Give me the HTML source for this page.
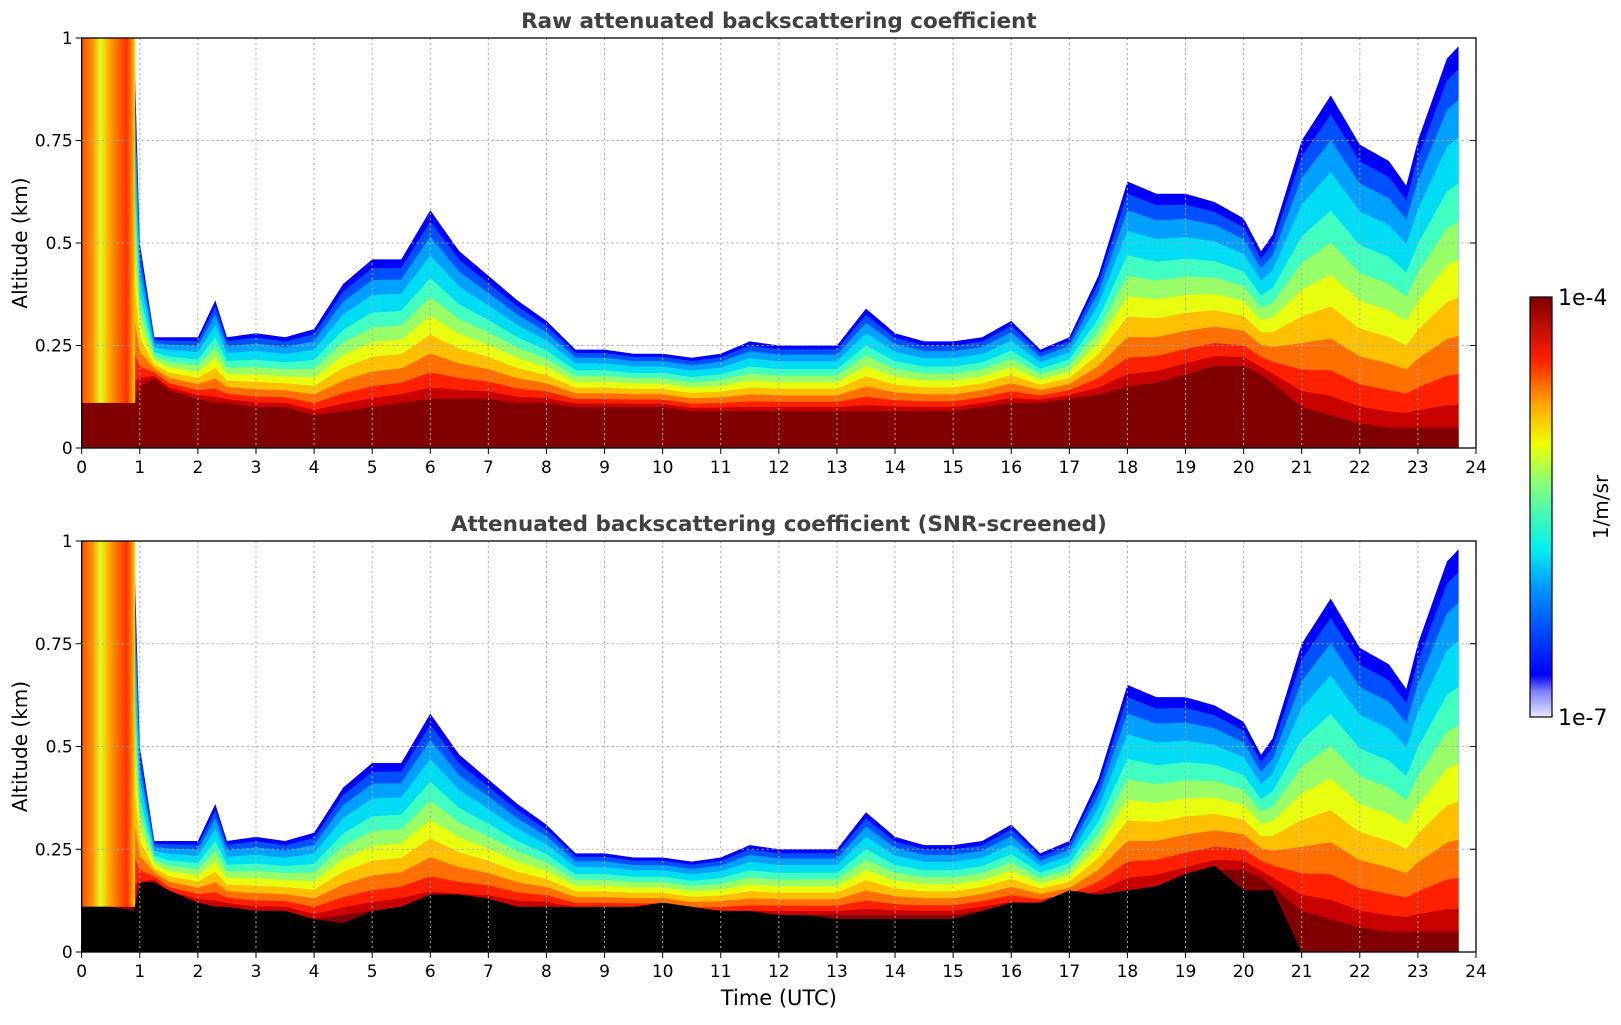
<!DOCTYPE html>
<html><head><meta charset="utf-8"><style>
body{margin:0;background:#fff;}
svg text{font-family:"DejaVu Sans","Liberation Sans",sans-serif;}
</style></head><body>
<svg id="s" width="1621" height="1020" viewBox="0 0 1621 1020" xmlns="http://www.w3.org/2000/svg">
<defs>
<linearGradient id="cbg" x1="0" y1="1" x2="0" y2="0">
<stop offset="0" stop-color="#e8e8ff"/><stop offset="0.06" stop-color="#8080ff"/><stop offset="0.1" stop-color="#0000ff"/>
<stop offset="0.3" stop-color="#0090ff"/><stop offset="0.4" stop-color="#00f0f0"/><stop offset="0.55" stop-color="#80ff80"/>
<stop offset="0.65" stop-color="#f0ff00"/><stop offset="0.75" stop-color="#ffa000"/><stop offset="0.85" stop-color="#ff2000"/>
<stop offset="1" stop-color="#800000"/></linearGradient>
<linearGradient id="early" x1="0" y1="0" x2="1" y2="0">
<stop offset="0" stop-color="#ff5000"/><stop offset="0.2" stop-color="#ff9000"/><stop offset="0.35" stop-color="#e0ff20"/>
<stop offset="0.5" stop-color="#ffb000"/><stop offset="0.7" stop-color="#ff6000"/><stop offset="0.85" stop-color="#ff3000"/><stop offset="1" stop-color="#ffd000"/></linearGradient>
</defs>
</svg>
<script>
// data
const hours    = [0,0.5,0.9,1.0,1.25,1.5,2,2.3,2.5,3,3.5,4,4.5,5,5.5,6,6.5,7,7.5,8,8.5,9,9.5,10,10.5,11,11.5,12,12.5,13,13.5,14,14.5,15,15.5,16,16.5,17,17.5,18,18.5,19,19.5,20,20.3,20.5,21,21.5,22,22.5,22.8,23,23.5,23.7];
const layerTop = [1.0,1.0,1.0,0.5,0.27,0.27,0.27,0.36,0.27,0.28,0.27,0.29,0.40,0.46,0.46,0.58,0.48,0.42,0.36,0.31,0.24,0.24,0.23,0.23,0.22,0.23,0.26,0.25,0.25,0.25,0.34,0.28,0.26,0.26,0.27,0.31,0.24,0.27,0.42,0.65,0.62,0.62,0.60,0.56,0.48,0.52,0.75,0.86,0.74,0.70,0.64,0.75,0.95,0.98];
const darkTop  = [0.11,0.11,0.11,0.15,0.17,0.14,0.12,0.11,0.11,0.10,0.10,0.08,0.09,0.10,0.11,0.12,0.12,0.12,0.11,0.11,0.10,0.10,0.10,0.10,0.09,0.09,0.09,0.09,0.09,0.09,0.09,0.09,0.09,0.09,0.10,0.11,0.11,0.12,0.13,0.15,0.16,0.18,0.20,0.20,0.18,0.16,0.10,0.08,0.06,0.05,0.05,0.05,0.05,0.05];
const blackTop = [0.11,0.11,0.10,0.17,0.17,0.15,0.12,0.11,0.11,0.10,0.10,0.08,0.07,0.10,0.11,0.14,0.14,0.13,0.11,0.11,0.11,0.11,0.11,0.12,0.11,0.10,0.10,0.09,0.09,0.08,0.08,0.08,0.08,0.08,0.10,0.12,0.12,0.15,0.14,0.15,0.16,0.19,0.21,0.15,0.15,0.15,0.0,0.0,0.0,0.0,0.0,0.0,0.0,0.0];
const xTicks = [0,1,2,3,4,5,6,7,8,9,10,11,12,13,14,15,16,17,18,19,20,21,22,23,24];
const yTicks = [0,0.25,0.5,0.75,1];
const yTickLabels = ["0","0.25","0.5","0.75","1"];
const bandFrac   = [1.0,0.94,0.86,0.76,0.64,0.54,0.44,0.34,0.24,0.14,0.06];
const bandColors = ["#0000f8","#0050ff","#00a0ff","#00dcf4","#40ffc0","#98ff68","#e8ff10","#ffc000","#ff7000","#ff2000","#c80000"];

const NS="http://www.w3.org/2000/svg", svg=document.getElementById('s');
function el(tag,attrs,parent){const e=document.createElementNS(NS,tag);for(const k in attrs)e.setAttribute(k,attrs[k]);(parent||svg).appendChild(e);return e;}
const X0=81.7,X1=1476;
const xs=h=>X0+(h/24)*(X1-X0);
function panel(top,bottom,title,screened,pname){
  const ys=v=>bottom-v*(bottom-top);
  const g=el('g',{});
  
  
  const last=hours.length-1;
  for(let b=0;b<bandFrac.length;b++){
    let d='M'+xs(hours[0])+','+bottom;
    for(let i=0;i<hours.length;i++){const h=darkTop[i]+bandFrac[b]*(layerTop[i]-darkTop[i]);d+=' L'+xs(hours[i])+','+ys(h);}
    d+=' L'+xs(hours[last])+','+bottom+' Z';
    const p=el('path',{d:d,fill:bandColors[b]},g);
    
    
  }
  let d='M'+xs(hours[0])+','+bottom;
  for(let i=0;i<hours.length;i++)d+=' L'+xs(hours[i])+','+ys(darkTop[i]);
  d+=' L'+xs(hours[last])+','+bottom+' Z';
  const dk=el('path',{d:d,fill:'#800000'},g);
  
  
  const er=el('rect',{x:xs(0),y:ys(1),width:xs(0.92)-xs(0),height:ys(darkTop[0])-ys(1),fill:'url(#early)'},g);
  
  
  if(screened){
    let d2='M'+xs(hours[0])+','+bottom;
    for(let i=0;i<hours.length;i++)d2+=' L'+xs(hours[i])+','+ys(blackTop[i]);
    d2+=' L'+xs(hours[last])+','+bottom+' Z';
    const bk=el('path',{d:d2,fill:'#000'},g);
    
    
  }
  xTicks.forEach(t=>{if(t>0&&t<24){const l=el('line',{x1:xs(t),x2:xs(t),y1:top,y2:bottom,stroke:'#aaa','stroke-dasharray':'2,3','stroke-width':1},g);}});
  yTicks.forEach(t=>{if(t>0&&t<1){const l=el('line',{x1:X0,x2:X1,y1:ys(t),y2:ys(t),stroke:'#aaa','stroke-dasharray':'2,3','stroke-width':1},g);}});
  const fr=el('rect',{x:X0,y:top,width:X1-X0,height:bottom-top,fill:'none',stroke:'#000','stroke-width':1.3},g);
  
  
  xTicks.forEach(t=>{
    const l=el('line',{x1:xs(t),x2:xs(t),y1:bottom,y2:bottom+6,stroke:'#000'},g);
    
    
    const tx=el('text',{x:xs(t),y:bottom+25,'font-size':17,'text-anchor':'middle'},g);tx.textContent=String(t);
    
    
  });
  yTicks.forEach((t,i)=>{
    const l=el('line',{x1:X0-6,x2:X0,y1:ys(t),y2:ys(t),stroke:'#000'},g);
    
    
    const l2=el('line',{x1:X1,x2:X1-6,y1:ys(t),y2:ys(t),stroke:'#000'},g);
    
    
    const tx=el('text',{x:X0-9,y:ys(t)+6,'font-size':17,'text-anchor':'end'},g);tx.textContent=yTickLabels[i];
    
    
  });
  const tt=el('text',{x:(X0+X1)/2,y:top-10,'font-size':21.5,'font-weight':'bold',fill:'#404040','text-anchor':'middle'},g);tt.textContent=title;
  
  
  const yl=el('text',{x:0,y:0,'font-size':20,'text-anchor':'middle',transform:'translate(27,'+((top+bottom)/2)+') rotate(-90)'},g);yl.textContent='Altitude (km)';
  
  
}
panel(38,448,'Raw attenuated backscattering coefficient',false,'raw-panel');
panel(541,952,'Attenuated backscattering coefficient (SNR-screened)',true,'screened-panel');
const xl=el('text',{x:(X0+X1)/2,y:1005,'font-size':21,'text-anchor':'middle'});xl.textContent='Time (UTC)';


const cb=el('rect',{x:1530,y:297,width:22,height:420,fill:'url(#cbg)',stroke:'#000','stroke-width':1.2});


const c1=el('text',{x:1558,y:305,'font-size':22});c1.textContent='1e-4';


const c2=el('text',{x:1558,y:725,'font-size':22});c2.textContent='1e-7';


const cu=el('text',{x:0,y:0,'font-size':20,'text-anchor':'middle',transform:'translate(1608,507) rotate(-90)'});cu.textContent='1/m/sr';


</script>
</body></html>
